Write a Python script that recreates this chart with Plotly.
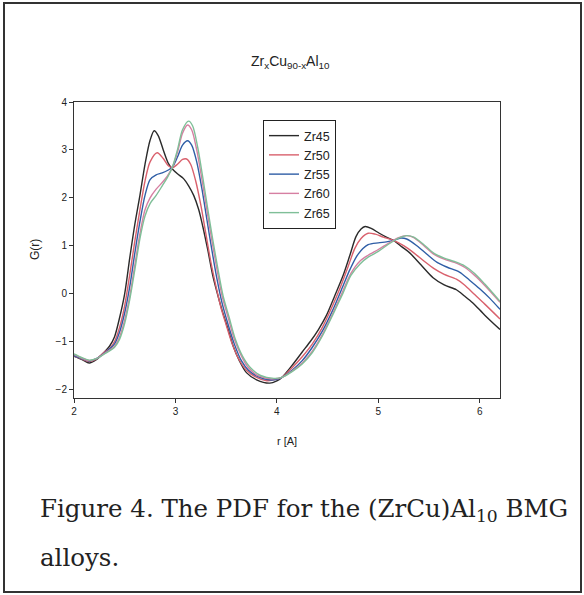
import plotly.graph_objects as go

# ---- data ----
r45 = [2.0, 2.08, 2.15, 2.22, 2.30, 2.35, 2.40, 2.45, 2.50, 2.55, 2.60, 2.65, 2.70, 2.75, 2.79, 2.83, 2.88, 2.93, 2.97, 3.02, 3.08, 3.13, 3.18, 3.23, 3.27, 3.32, 3.37, 3.42, 3.46, 3.52, 3.57, 3.63, 3.70, 3.80, 3.93, 4.00, 4.05, 4.15, 4.25, 4.33, 4.41, 4.49, 4.57, 4.65, 4.72, 4.78, 4.83, 4.87, 4.93, 5.01, 5.08, 5.15, 5.23, 5.31, 5.42, 5.54, 5.65, 5.77, 5.85, 5.93, 6.05, 6.2]
g45 = [-1.31, -1.38, -1.45, -1.38, -1.22, -1.10, -0.90, -0.50, 0.00, 0.75, 1.45, 2.05, 2.70, 3.20, 3.40, 3.30, 3.00, 2.72, 2.60, 2.50, 2.40, 2.25, 2.05, 1.75, 1.40, 0.90, 0.36, -0.05, -0.35, -0.75, -1.10, -1.40, -1.65, -1.80, -1.87, -1.82, -1.75, -1.50, -1.22, -1.00, -0.75, -0.45, -0.05, 0.36, 0.80, 1.19, 1.35, 1.40, 1.36, 1.26, 1.18, 1.11, 0.98, 0.85, 0.60, 0.33, 0.18, 0.08, -0.05, -0.19, -0.45, -0.75]

r50 = [2.0, 2.08, 2.15, 2.22, 2.30, 2.35, 2.40, 2.45, 2.50, 2.55, 2.60, 2.65, 2.70, 2.75, 2.82, 2.88, 2.93, 2.97, 3.02, 3.07, 3.11, 3.15, 3.20, 3.25, 3.30, 3.35, 3.40, 3.45, 3.50, 3.56, 3.62, 3.70, 3.80, 3.90, 3.97, 4.05, 4.15, 4.25, 4.35, 4.45, 4.55, 4.62, 4.70, 4.77, 4.83, 4.90, 4.97, 5.05, 5.15, 5.25, 5.35, 5.45, 5.55, 5.65, 5.77, 5.85, 5.95, 6.05, 6.2]
g50 = [-1.30, -1.37, -1.42, -1.37, -1.22, -1.15, -1.00, -0.70, -0.25, 0.40, 1.10, 1.75, 2.35, 2.75, 2.94, 2.82, 2.67, 2.63, 2.70, 2.80, 2.81, 2.70, 2.35, 1.85, 1.25, 0.65, 0.15, -0.30, -0.65, -1.05, -1.35, -1.60, -1.75, -1.82, -1.80, -1.75, -1.55, -1.32, -1.05, -0.70, -0.25, 0.10, 0.55, 0.95, 1.15, 1.26, 1.24, 1.18, 1.11, 1.00, 0.85, 0.68, 0.52, 0.40, 0.30, 0.18, -0.02, -0.22, -0.53]

r55 = [2.0, 2.08, 2.15, 2.22, 2.30, 2.40, 2.45, 2.50, 2.55, 2.60, 2.65, 2.70, 2.75, 2.81, 2.87, 2.93, 2.97, 3.02, 3.07, 3.12, 3.16, 3.21, 3.26, 3.31, 3.36, 3.41, 3.46, 3.52, 3.58, 3.65, 3.72, 3.82, 3.92, 4.00, 4.05, 4.15, 4.25, 4.35, 4.45, 4.55, 4.65, 4.72, 4.80, 4.90, 5.00, 5.08, 5.15, 5.22, 5.28, 5.38, 5.48, 5.58, 5.68, 5.80, 5.90, 6.00, 6.10, 6.2]
g55 = [-1.29, -1.36, -1.41, -1.36, -1.24, -1.05, -0.80, -0.40, 0.15, 0.85, 1.50, 2.05, 2.38, 2.48, 2.52, 2.58, 2.64, 2.85, 3.10, 3.19, 3.10, 2.75, 2.20, 1.55, 0.90, 0.30, -0.20, -0.65, -1.05, -1.40, -1.60, -1.74, -1.80, -1.79, -1.75, -1.60, -1.40, -1.12, -0.78, -0.35, 0.15, 0.50, 0.82, 1.02, 1.06, 1.08, 1.11, 1.16, 1.14, 1.00, 0.82, 0.65, 0.55, 0.45, 0.28, 0.10, -0.10, -0.33]

r60 = [2.0, 2.08, 2.15, 2.22, 2.30, 2.40, 2.45, 2.50, 2.55, 2.60, 2.65, 2.70, 2.75, 2.81, 2.87, 2.92, 2.97, 3.02, 3.07, 3.12, 3.16, 3.21, 3.26, 3.31, 3.36, 3.41, 3.46, 3.52, 3.58, 3.65, 3.72, 3.82, 3.95, 4.05, 4.15, 4.25, 4.35, 4.45, 4.55, 4.65, 4.73, 4.82, 4.90, 5.00, 5.10, 5.20, 5.28, 5.35, 5.45, 5.55, 5.65, 5.75, 5.85, 5.95, 6.05, 6.2]
g60 = [-1.27, -1.35, -1.40, -1.36, -1.25, -1.10, -0.90, -0.55, -0.05, 0.60, 1.25, 1.75, 2.00, 2.18, 2.32, 2.45, 2.64, 2.95, 3.35, 3.52, 3.42, 3.00, 2.40, 1.75, 1.10, 0.50, -0.05, -0.50, -0.95, -1.30, -1.55, -1.72, -1.78, -1.75, -1.62, -1.45, -1.20, -0.85, -0.42, 0.05, 0.42, 0.68, 0.80, 0.92, 1.05, 1.17, 1.21, 1.17, 1.00, 0.82, 0.72, 0.65, 0.55, 0.38, 0.17, -0.18]

r65 = [2.0, 2.08, 2.15, 2.22, 2.30, 2.40, 2.45, 2.50, 2.55, 2.60, 2.65, 2.70, 2.75, 2.81, 2.87, 2.92, 2.97, 3.02, 3.07, 3.13, 3.17, 3.22, 3.27, 3.32, 3.37, 3.42, 3.47, 3.53, 3.59, 3.66, 3.74, 3.84, 3.97, 4.05, 4.15, 4.25, 4.35, 4.45, 4.55, 4.65, 4.73, 4.82, 4.90, 5.00, 5.10, 5.20, 5.28, 5.35, 5.45, 5.55, 5.65, 5.75, 5.85, 5.95, 6.05, 6.2]
g65 = [-1.26, -1.34, -1.39, -1.36, -1.26, -1.12, -0.95, -0.62, -0.12, 0.50, 1.15, 1.62, 1.88, 2.05, 2.25, 2.42, 2.64, 3.00, 3.42, 3.60, 3.50, 3.05, 2.42, 1.75, 1.10, 0.50, -0.05, -0.50, -0.95, -1.30, -1.55, -1.71, -1.77, -1.75, -1.63, -1.47, -1.23, -0.88, -0.45, 0.00, 0.38, 0.62, 0.76, 0.88, 1.03, 1.16, 1.21, 1.18, 1.02, 0.84, 0.74, 0.67, 0.58, 0.42, 0.20, -0.16]

names = ["Zr45", "Zr50", "Zr55", "Zr60", "Zr65"]
colors = ["#2a2a2a", "#d9606c", "#2f5ea6", "#d67fa2", "#7fbf98"]
xs = [r45, r50, r55, r60, r65]
ys = [g45, g50, g55, g60, g65]

x_ticks = [2, 3, 4, 5, 6]
y_ticks = [-2, -1, 0, 1, 2, 3, 4]

fig = go.Figure()
for n, c, x, y in zip(names, colors, xs, ys):
    fig.add_trace(go.Scatter(x=x, y=y, mode="lines", name=n,
                             line=dict(color=c, width=1.4, shape="spline", smoothing=0.8)))

L, R, T, B = 74, 84, 102, 197
W, H = 584, 595
pw, ph = W - L - R, H - T - B

def px(xp):
    return (xp - L) / pw

def py(yp):
    return (H - B - yp) / ph

axis_common = dict(showline=True, linecolor="#333", linewidth=1, mirror=True,
                   ticks="outside", ticklen=4, tickcolor="#333", showgrid=False,
                   zeroline=False, tickfont=dict(family="Arial", size=10, color="#222"))

fig.update_layout(
    width=W, height=H,
    margin=dict(l=L, r=R, t=T, b=B),
    paper_bgcolor="white", plot_bgcolor="white",
    showlegend=True,
    legend=dict(x=px(263), y=py(120), xanchor="left", yanchor="top",
                bordercolor="#222", borderwidth=1, bgcolor="white",
                font=dict(family="Arial", size=12.5, color="#222"),
                tracegroupgap=0, itemwidth=30),
    xaxis=dict(range=[2, 6.2], tickvals=x_ticks, **axis_common),
    yaxis=dict(range=[-2.18, 4], tickvals=y_ticks, **axis_common),
)

# outer frame
fig.add_shape(type="rect", xref="paper", yref="paper",
              x0=px(4), x1=px(581), y0=py(592), y1=py(3),
              line=dict(color="#333", width=2))

ann = [
    dict(text="Zr<sub>x</sub>Cu<sub>90-x</sub>Al<sub>10</sub>", x=px(290), y=py(62),
         font=dict(family="Arial", size=14, color="#222")),
    dict(text="r [A]", x=px(287), y=py(441),
         font=dict(family="Arial", size=11, color="#222")),
    dict(text="G(r)", x=px(35), y=py(250), textangle=-90,
         font=dict(family="Arial", size=12, color="#222")),
]
for a in ann:
    fig.add_annotation(xref="paper", yref="paper", showarrow=False,
                       xanchor="center", yanchor="middle", **a)

cap_font = dict(family="DejaVu Serif", size=24.5, color="#222")
fig.add_annotation(xref="paper", yref="paper", showarrow=False, xanchor="left", yanchor="middle",
                   x=px(38), y=py(510), font=cap_font,
                   text="Figure 4. The PDF for the (ZrCu)Al<sub>10</sub> BMG")
fig.add_annotation(xref="paper", yref="paper", showarrow=False, xanchor="left", yanchor="middle",
                   x=px(38), y=py(557), font=cap_font, text="alloys.")

fig.write_html("out.html", config={"displayModeBar": False},
               post_script="document.body.style.margin='0';document.body.style.overflow='hidden';")
